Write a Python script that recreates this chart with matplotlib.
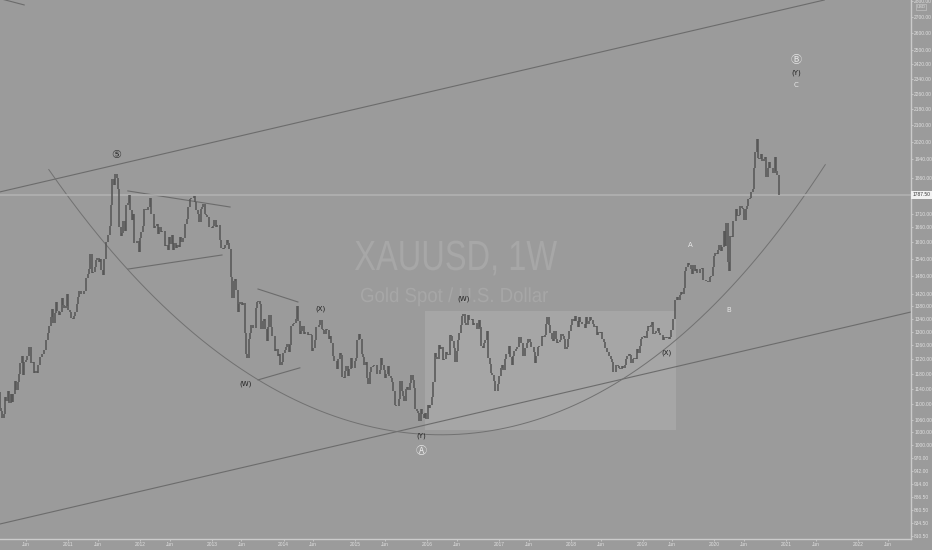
import matplotlib
matplotlib.use("Agg")
import matplotlib.pyplot as plt
import matplotlib.ticker as mticker
import matplotlib.dates as mdates
from matplotlib.textpath import TextPath
from matplotlib.patches import PathPatch
from matplotlib.font_manager import FontProperties
from matplotlib.transforms import Affine2D
import numpy as np
import pandas as pd

# weekly closes of XAUUSD (one row per year)
c2010 = [1097, 1138, 1131, 1090, 1083, 1064, 1075, 1119, 1107, 1133, 1103, 1125, 1105,
         1125, 1161, 1137, 1157, 1180, 1209, 1228, 1177, 1213, 1219, 1229, 1256, 1256,
         1209, 1211, 1181, 1188, 1181, 1204, 1227, 1227, 1236, 1246, 1246, 1275, 1296,
         1317, 1346, 1372, 1326, 1358, 1394, 1366, 1352, 1362, 1406, 1384, 1375, 1380, 1421]
c2011 = [1368, 1360, 1342, 1340, 1348, 1361, 1388, 1410, 1429, 1420, 1418, 1430,
         1429, 1474, 1486, 1504, 1556, 1492, 1493, 1511, 1536, 1542, 1529, 1539, 1500,
         1483, 1541, 1601, 1601, 1628, 1663, 1745, 1853, 1828, 1877, 1856, 1812, 1657, 1624,
         1636, 1682, 1642, 1747, 1755, 1788, 1725, 1684, 1711, 1597, 1597, 1606, 1565]
c2012 = [1617, 1639, 1664, 1727, 1725, 1723, 1736, 1773, 1710, 1711, 1655, 1662, 1668,
         1632, 1659, 1641, 1642, 1642, 1585, 1592, 1573, 1622, 1595, 1627, 1571, 1598,
         1579, 1590, 1583, 1619, 1603, 1617, 1616, 1670, 1691, 1738, 1771, 1773, 1772,
         1781, 1758, 1723, 1711, 1677, 1730, 1737, 1750, 1711, 1705, 1696, 1657, 1658]
c2013 = [1656, 1662, 1686, 1659, 1667, 1667, 1609, 1578, 1576, 1579, 1592, 1608, 1596,
         1577, 1477, 1406, 1462, 1470, 1434, 1363, 1386, 1393, 1383, 1389, 1297, 1234,
         1223, 1278, 1296, 1322, 1311, 1313, 1375, 1395, 1396, 1387, 1308, 1333, 1338,
         1310, 1272, 1315, 1352, 1315, 1287, 1288, 1243, 1250, 1230, 1235, 1204, 1213]
c2014 = [1237, 1247, 1254, 1264, 1240, 1262, 1318, 1323, 1326, 1339, 1379, 1334, 1294,
         1302, 1318, 1294, 1300, 1300, 1292, 1294, 1292, 1245, 1252, 1275, 1316, 1316,
         1320, 1337, 1310, 1306, 1294, 1309, 1305, 1280, 1287, 1268, 1228, 1216, 1216,
         1193, 1222, 1238, 1231, 1171, 1168, 1186, 1201, 1174, 1192, 1223, 1195, 1195]
c2015 = [1216, 1223, 1277, 1293, 1279, 1234, 1227, 1204, 1213, 1167, 1152, 1184, 1199,
         1201, 1205, 1203, 1178, 1179, 1189, 1225, 1204, 1190, 1168, 1180, 1201, 1173,
         1168, 1157, 1133, 1098, 1095, 1094, 1113, 1160, 1134, 1121, 1108, 1138, 1145,
         1137, 1156, 1177, 1163, 1142, 1088, 1081, 1076, 1057, 1086, 1075, 1065, 1076]
c2016 = [1061, 1097, 1089, 1097, 1117, 1157, 1239, 1227, 1221, 1260, 1250, 1255, 1219,
         1220, 1241, 1234, 1231, 1290, 1289, 1273, 1253, 1212, 1243, 1275, 1297, 1322,
         1349, 1356, 1327, 1322, 1351, 1335, 1335, 1340, 1321, 1327, 1327, 1309, 1337, 1316,
         1257, 1251, 1266, 1275, 1304, 1225, 1208, 1183, 1177, 1160, 1133, 1133, 1152]
c2017 = [1173, 1196, 1205, 1190, 1220, 1234, 1236, 1257, 1226, 1204, 1229, 1243, 1249,
         1254, 1285, 1284, 1268, 1228, 1228, 1253, 1267, 1280, 1271, 1255, 1256, 1242,
         1209, 1228, 1255, 1258, 1258, 1289, 1285, 1291, 1325, 1346, 1320, 1297, 1280,
         1274, 1304, 1280, 1266, 1269, 1275, 1294, 1288, 1279, 1248, 1255, 1278, 1303]
c2018 = [1322, 1338, 1332, 1350, 1333, 1315, 1347, 1330, 1323, 1323, 1312, 1347, 1325,
         1332, 1345, 1336, 1323, 1314, 1319, 1291, 1301, 1298, 1299, 1279, 1269, 1253,
         1241, 1241, 1230, 1222, 1213, 1184, 1184, 1205, 1201, 1196, 1194, 1200, 1195,
         1203, 1221, 1228, 1234, 1233, 1209, 1222, 1223, 1222, 1248, 1238, 1257, 1280]
c2019 = [1285, 1288, 1282, 1304, 1318, 1314, 1322, 1329, 1294, 1298, 1302, 1313, 1296,
         1291, 1291, 1276, 1286, 1281, 1286, 1278, 1284, 1305, 1341, 1341, 1399, 1409,
         1400, 1415, 1426, 1418, 1440, 1497, 1513, 1526, 1520, 1506, 1488, 1517, 1497,
         1505, 1489, 1490, 1505, 1509, 1468, 1468, 1462, 1463, 1460, 1476, 1479, 1510]
c2020 = [1552, 1562, 1557, 1571, 1589, 1570, 1584, 1643, 1585, 1674, 1530, 1498, 1625,
         1620, 1683, 1683, 1729, 1701, 1704, 1743, 1735, 1730, 1684, 1730, 1742, 1771,
         1775, 1798, 1811, 1902, 1975, 2035, 1944, 1940, 1964, 1934, 1941, 1950, 1862,
         1900, 1930, 1900, 1902, 1879, 1951, 1887, 1871, 1788]

closes = c2010 + c2011 + c2012 + c2013 + c2014 + c2015 + c2016 + c2017 + c2018 + c2019 + c2020
weeks = pd.date_range("2009-12-28", periods=len(closes), freq="7D")
opens = [closes[0]] + closes[:-1]
last_price = 1787.50

price_ticks = [810.5, 834.5, 860.5, 886.5, 914, 942, 970, 1000, 1030, 1060, 1100, 1140,
               1180, 1220, 1260, 1300, 1340, 1380, 1420, 1480, 1540, 1600, 1660, 1710,
               1860, 1940, 2020, 2100, 2180, 2260, 2340, 2420, 2500, 2600, 2700, 2800]
year_ticks = [str(y) for y in range(2011, 2023)]
jun_ticks = [str(y) + "-06-01" for y in range(2010, 2023)]

# drawings (date, price)
upper_channel = [("2010-01-20", 1799), ("2021-07-13", 2808)]
lower_channel = [("2010-01-20", 832.5), ("2022-09-27", 1361.5)]
corner_line = [("2010-01-20", 2817), ("2010-05-23", 2776)]
tri1_upper = [("2011-11-01", 1803), ("2013-04-04", 1737)]
tri1_lower = [("2011-11-01", 1504), ("2013-02-22", 1554)]
tri2_upper = [("2013-08-24", 1436), ("2014-03-15", 1393.5)]
tri2_lower = [("2013-08-24", 1163), ("2014-03-25", 1196)]
box = [("2015-12-21", 1035), ("2019-06-20", 1365)]
arc_dates = ["2010-09-25", "2011-03-02", "2011-09-21", "2012-04-12", "2012-11-02",
             "2013-08-19", "2014-07-21", "2015-06-26", "2016-04-26", "2017-01-07",
             "2017-09-17", "2018-05-29", "2019-02-08", "2019-10-20", "2020-07-01",
             "2021-01-21", "2021-07-18"]
arc_prices = [1897, 1721, 1529, 1384, 1282, 1168, 1077, 1040, 1028, 1038, 1067, 1123,
              1212, 1343, 1529, 1713, 1902]

wave_labels = [
    ("⑤", "2011-09-01", 1962, "#333333", 8),
    ("(W)", "2013-06-24", 1152, "#222222", 5),
    ("(X)", "2014-07-06", 1371, "#222222", 5),
    ("(W)", "2016-07-07", 1403, "#222222", 5),
    ("(Y)", "2015-12-01", 1021, "#222222", 5),
    ("Ⓐ", "2015-12-01", 986, "#e6e6e6", 8),
    ("(X)", "2019-05-01", 1238, "#222222", 5),
    ("A", "2019-08-31", 1590, "#e6e6e6", 5),
    ("B", "2020-03-16", 1368, "#e6e6e6", 5),
    ("Ⓑ", "2021-02-20", 2443, "#e6e6e6", 8),
    ("(Y)", "2021-02-20", 2371, "#222222", 5),
    ("C", "2021-02-20", 2305, "#e6e6e6", 5),
]

bg = "#9b9b9b"
axcol = "#cbcbcb"
txtcol = "#e0e0e0"
drawcol = "#6c6c6c"
W, H = 932, 550

fig = plt.figure(figsize=(W / 100, H / 100), dpi=100, facecolor=bg)
ax = fig.add_axes([0, 11 / H, 911 / W, 539 / H])
ax.set_facecolor(bg)
ax.set_yscale("log")
ax.set_ylim(804, 2808)
ax.set_xlim(pd.Timestamp("2010-01-20"), pd.Timestamp("2022-09-27"))

def line(pts, **kw):
    ax.plot([pd.Timestamp(p[0]) for p in pts], [p[1] for p in pts], **kw)

# watermark, squeezed to the narrow TradingView look (pixel box)
def watermark(s, left, right, base, cap):
    fp = FontProperties(family="Liberation Sans")
    tp = TextPath((0, 0), s, size=100, prop=fp)
    ext = tp.get_extents()
    caph = TextPath((0, 0), "X", size=100, prop=fp).get_extents().height
    tr = Affine2D().translate(-ext.x0, 0).scale((right - left) / ext.width, cap / caph)
    tr = tr.translate(left, H - base)
    ax.add_patch(PathPatch(tp, transform=tr, fc="#a7a7a7", ec="none", zorder=0.5))

watermark("XAUUSD, 1W", 355, 557, 270, 29)
watermark("Gold Spot / U.S. Dollar", 361, 548, 302, 14)

# shaded box
x0, x1 = pd.Timestamp(box[0][0]), pd.Timestamp(box[1][0])
ax.fill_between([x0, x1], box[0][1], box[1][1], color="#a6a6a6", lw=0, zorder=1)

# trend lines etc
for pts in [upper_channel, lower_channel, corner_line, tri1_upper, tri1_lower,
            tri2_upper, tri2_lower]:
    line(pts, color=drawcol, lw=0.8, zorder=2)

# the arc drawing: smooth curve through the points
ax_num = mdates.date2num(pd.to_datetime(arc_dates))
coef = np.polyfit(ax_num, np.log(arc_prices), 4)
xs = np.linspace(ax_num[0], ax_num[-1], 300)
ax.plot(mdates.num2date(xs), np.exp(np.polyval(coef, xs)), color="#717171", lw=0.7, zorder=2)

# last price line
ax.axhline(last_price, color="#b3b3b3", lw=1.1, zorder=2)

# weekly bars
lo = [min(o, c) for o, c in zip(opens, closes)]
hi = [max(o, c) for o, c in zip(opens, closes)]
ax.vlines(weeks, lo, hi, color="#555555", lw=1.1, zorder=3)

for txt, d, p, col, fs in wave_labels:
    ax.text(pd.Timestamp(d), p, txt, ha="center", va="center", fontsize=fs, color=col,
            family=["DejaVu Sans", "Noto Sans CJK JP"], zorder=4)

# axes
ax.yaxis.tick_right()
ax.yaxis.set_major_locator(mticker.FixedLocator(price_ticks))
ax.yaxis.set_major_formatter(mticker.FixedFormatter(["%.2f" % v for v in price_ticks]))
ax.yaxis.set_minor_locator(mticker.NullLocator())

xt = [pd.Timestamp(y + "-01-01") for y in year_ticks] + [pd.Timestamp(j) for j in jun_ticks]
xl = year_ticks + ["Jun"] * len(jun_ticks)
ax.set_xticks(xt)
ax.set_xticklabels(xl)
ax.xaxis.set_minor_locator(mticker.NullLocator())

ax.tick_params(axis="both", colors=axcol, labelcolor=txtcol, labelsize=3.5, length=1.5,
               width=0.6, pad=0.8, labelfontfamily="Liberation Sans")
for s in ["top", "left"]:
    ax.spines[s].set_visible(False)
for s in ["right", "bottom"]:
    ax.spines[s].set_color(axcol)
    ax.spines[s].set_linewidth(1.0)

# price tag and currency
ytag = ax.transAxes.inverted().transform(ax.transData.transform((0, last_price)))[1]
ax.text(1.002, ytag, "1787.50", transform=ax.transAxes, ha="left", va="center",
        fontsize=3.5, color="#333333", family="Liberation Sans",
        bbox=dict(boxstyle="square,pad=0.3", fc="#f2f2f2", ec="none"), zorder=5, clip_on=False)
fig.text(921 / W, 1 - 7 / H, "USD", ha="center", va="center", fontsize=3, color=txtcol,
         family="Liberation Sans",
         bbox=dict(boxstyle="square,pad=0.2", fc="none", ec=axcol, lw=0.4))

fig.savefig("out.png", dpi=100, facecolor=bg)
